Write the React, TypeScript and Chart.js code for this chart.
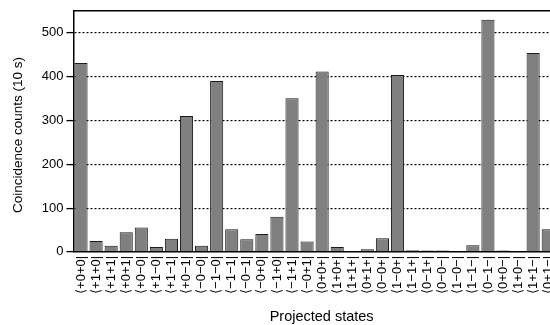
import React, { useEffect, useRef } from "react";
import { Chart, registerables } from "chart.js";

Chart.register(...registerables);

const stateLabels = [
  "⟨+0+0|", "⟨+1+0|", "⟨+1+1|", "⟨+0+1|",
  "⟨+0−0|", "⟨+1−0|", "⟨+1−1|", "⟨+0−1|",
  "⟨−0−0|", "⟨−1−0|", "⟨−1−1|", "⟨−0−1|",
  "⟨−0+0|", "⟨−1+0|", "⟨−1+1|", "⟨−0+1|",
  "⟨0+0+|", "⟨1+0+|", "⟨1+1+|", "⟨0+1+|",
  "⟨0−0+|", "⟨1−0+|", "⟨1−1+|", "⟨0−1+|",
  "⟨0−0−|", "⟨1−0−|", "⟨1−1−|", "⟨0−1−|",
  "⟨0+0−|", "⟨1+0−|", "⟨1+1−|", "⟨0+1−|",
];

const coincidenceCounts = [
  431, 25, 14, 45, 56, 11, 30, 310,
  14, 390, 52, 29, 41, 80, 351, 24,
  412, 11, 0, 6, 31, 404, 4, 3,
  3, 0, 15, 530, 3, 0, 454, 52,
];

const yTickValues = [0, 100, 200, 300, 400, 500];
const yMin = 0;
const yMax = 550;

const xTitle = "Projected states";
const yTitle = "Coincidence counts (10 s)";

const FONT = '"Liberation Sans", "DejaVu Sans", Arial, sans-serif';

const W = 568;
const H = 325;

const axisTitles = {
  id: "axisTitles",
  afterDraw(chart: any) {
    const { ctx, chartArea } = chart;
    ctx.save();
    ctx.fillStyle = "#000";
    ctx.textAlign = "center";
    ctx.textBaseline = "middle";
    // x title
    ctx.font = `14.5px ${FONT}`;
    ctx.fillText(xTitle, (chartArea.left + chartArea.right) / 2 + 7, chartArea.bottom + 65);
    // y title
    ctx.font = `13.5px ${FONT}`;
    ctx.translate(chartArea.left - 55.5, (chartArea.top + chartArea.bottom) / 2 + 3.5);
    ctx.rotate(-Math.PI / 2);
    ctx.fillText(yTitle, 0, 0);
    ctx.restore();
  },
};

export default function App() {
  const ref = useRef<HTMLCanvasElement>(null);

  useEffect(() => {
    if (!ref.current) return;
    const chart = new Chart(ref.current, {
      type: "bar",
      data: {
        labels: stateLabels,
        datasets: [
          {
            data: coincidenceCounts,
            backgroundColor: "#808080",
            borderColor: "#1a1a1a",
            borderWidth: 1,
            categoryPercentage: 1,
            barPercentage: 0.87,
          },
        ],
      },
      plugins: [axisTitles],
      options: {
        responsive: false,
        animation: false,
        devicePixelRatio: 1,
        plugins: { legend: { display: false }, tooltip: { enabled: false } },
        layout: { padding: { left: 38.8, top: 11, right: 0, bottom: 27 } },
        scales: {
          x: {
            type: "category",
            grid: { display: false, drawTicks: false },
            border: { display: true, color: "#000", width: 1.5 },
            ticks: {
              autoSkip: false,
              maxRotation: 90,
              minRotation: 90,
              padding: 4,
              color: "#000",
              font: { family: FONT, size: 13 },
            },
          },
          xTop: {
            type: "linear",
            position: "top",
            min: 0,
            max: 1,
            grid: { display: false, drawTicks: false },
            ticks: { display: false },
            border: { display: true, color: "#000", width: 1.5 },
          },
          y: {
            min: yMin,
            max: yMax,
            afterBuildTicks: (scale: any) => {
              scale.ticks = yTickValues.map((v) => ({ value: v }));
            },
            grid: {
              color: (c: any) => (c.tick && c.tick.value === 0 ? "rgba(0,0,0,0)" : "#000"),
              lineWidth: 1.2,
              tickColor: "#000",
              tickLength: 7,
              tickWidth: 1.3,
            },
            border: { display: true, color: "#000", width: 1.5, dash: [2, 2] },
            ticks: {
              padding: 3,
              color: "#000",
              font: { family: FONT, size: 13 },
            },
          },
        },
      },
    });
    return () => chart.destroy();
  }, []);

  return (
    <div style={{ position: "fixed", left: 0, top: 0, width: 550, height: 325, overflow: "hidden", background: "#fff" }}>
      <div style={{ width: W, height: H }}>
        <canvas ref={ref} width={W} height={H} style={{ width: W, height: H, display: "block" }} />
      </div>
    </div>
  );
}
